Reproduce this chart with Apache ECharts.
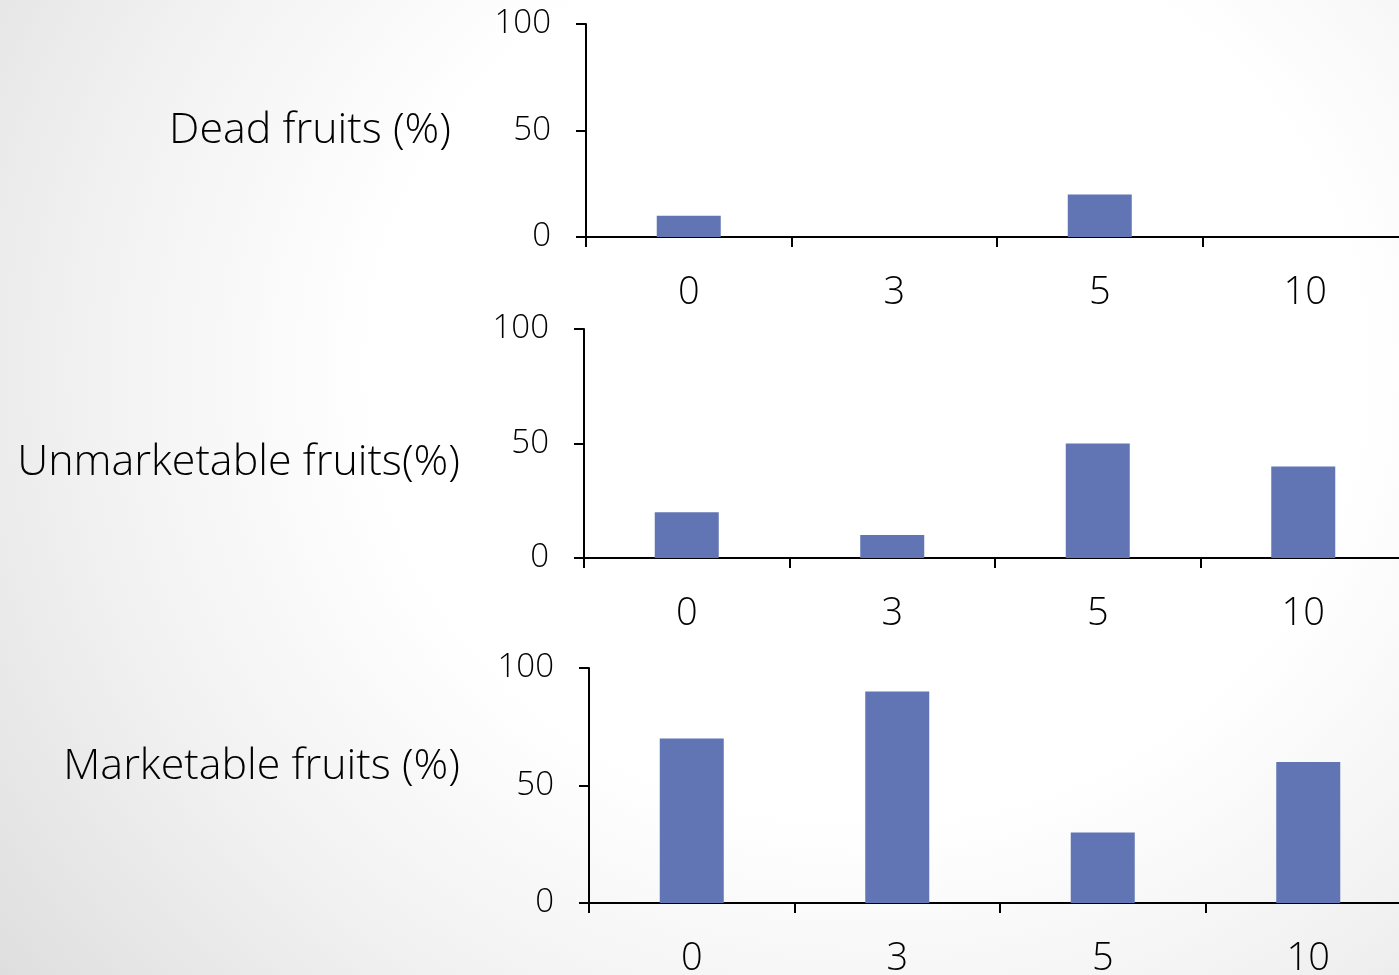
<!DOCTYPE html>
<html><head><meta charset="utf-8">
<script src="https://cdn.jsdelivr.net/npm/echarts@6/dist/echarts.min.js"></script>
<style>
html,body{margin:0;padding:0;width:1399px;height:975px;overflow:hidden;}
body{background:radial-gradient(ellipse 1100px 1000px at 62% 38%, #ffffff 45%, #f2f2f2 70%, #dedede 100%);}
#c{width:1399px;height:975px;}
</style></head><body>
<div id="c"></div>
<script>
const categories = ['0', '3', '5', '10'];
const deadFruits = [10, 0, 20, 0];
const unmarketableFruits = [20, 10, 50, 40];
const marketableFruits = [70, 90, 30, 60];
const panelLabels = ['Dead fruits (%)', 'Unmarketable fruits(%)', 'Marketable fruits (%)'];
const yTicks = [0, 50, 100];

const FONT = '"Open Sans", "Liberation Sans", sans-serif';
const barColor = '#6175B4';
const grids = [
  {left: 586, top: 24, right: -9, height: 213, outerBoundsMode: 'none', containLabel: false},
  {left: 584, top: 329, right: -7, height: 229, outerBoundsMode: 'none', containLabel: false},
  {left: 589, top: 668, right: -12, height: 235, outerBoundsMode: 'none', containLabel: false}
];
const seriesData = [deadFruits, unmarketableFruits, marketableFruits];
const labelPos = [[451, 131], [460, 463], [460, 767]];

const chart = echarts.init(document.getElementById('c'), null, {renderer: 'canvas'});
const option = {
  backgroundColor: 'transparent',
  animation: false,
  grid: grids,
  xAxis: grids.map((g, i) => ({
    type: 'category', gridIndex: i, data: categories,
    axisLine: {lineStyle: {color: '#000', width: 2}},
    axisTick: {show: true, length: 10, lineStyle: {color: '#000', width: 2}},
    axisLabel: {color: '#000', fontFamily: FONT, fontWeight: 300, fontSize: 38, margin: 37}
  })),
  yAxis: grids.map((g, i) => ({
    type: 'value', gridIndex: i, min: yTicks[0], max: yTicks[yTicks.length - 1], interval: 50,
    axisLine: {show: true, lineStyle: {color: '#000', width: 2}},
    axisTick: {show: true, length: 10, lineStyle: {color: '#000', width: 2}},
    splitLine: {show: false},
    axisLabel: {color: '#000', fontFamily: FONT, fontWeight: 300, fontSize: 33, margin: 35}
  })),
  series: seriesData.map((d, i) => ({
    type: 'bar', xAxisIndex: i, yAxisIndex: i, data: d, barWidth: 64,
    itemStyle: {color: barColor}
  })),
  graphic: panelLabels.map((t, i) => ({
    type: 'text', x: labelPos[i][0], y: labelPos[i][1],
    style: {text: t, fill: '#000', font: '300 43px ' + FONT, textAlign: 'right', textVerticalAlign: 'middle'}
  }))
};
chart.setOption(option);
</script>
</body></html>
